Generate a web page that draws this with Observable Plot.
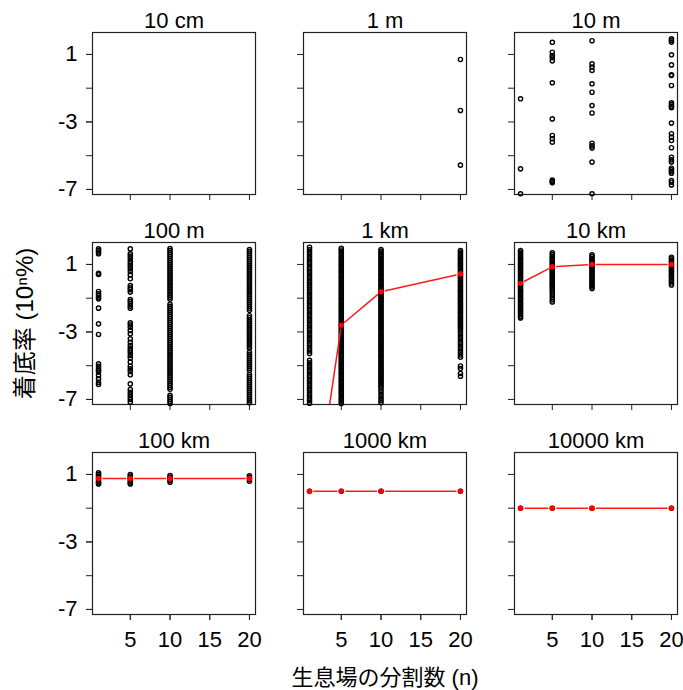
<!DOCTYPE html>
<html>
<head>
<meta charset="utf-8">
<script src="https://cdn.jsdelivr.net/npm/d3@7"></script>
<script src="https://cdn.jsdelivr.net/npm/@observablehq/plot@0.6"></script>
<style>
  html, body { margin: 0; padding: 0; background: white; }
</style>
</head>
<body>
<div id="chart"></div>
<script>
// ---- categories / labels ----
const panelNames = ["10 cm", "1 m", "10 m", "100 m", "1 km", "10 km", "100 km", "1000 km", "10000 km"];
const nValues = [1, 5, 10, 20];
const xTicks = [5, 10, 15, 20];
const yTicksAll = [1, -1, -3, -5, -7];
const yTickLabels = [1, -3, -7];
const yLabel = "着底率 (10ⁿ%)";
const xLabel = "生息場の分割数 (n)";

// ---- individual observations (log10 of settlement rate), by panel and n ----
const p1m_n20 = [0.70, -2.32, -5.56];

const p10m_n1 = [-1.63, -5.78, -7.26];
const p10m_n5 = [1.72, 1.13, 0.94, 0.80, 0.62, -0.68, -2.82, -3.80, -4.00, -4.20, -6.45, -6.53, -6.61];
const p10m_n10 = [1.81, 0.44, 0.25, 0.05, -0.74, -1.24, -2.03, -2.47, -4.26, -4.42, -4.55, -5.38, -7.26];
const p10m_n20 = [1.92, 1.83, 1.73, 0.98, 0.38, -0.21, -0.25, -0.84, -1.87, -1.97, -2.07, -2.16, -3.07, -3.70, -3.90, -4.10, -4.53, -5.09, -5.25, -5.38, -5.74, -5.84, -5.94, -6.04, -6.47, -6.57, -6.73];

const p100m_n1 = [1.92, 1.83, 1.73, 1.63, 0.48, 0.40, -0.60, -0.74, -0.84, -0.94, -1.04, -1.59, -2.52, -3.15, -4.89, -5.03, -5.19, -5.29, -5.38, -5.58, -5.78, -5.98, -6.11];
const p100m_n5 = [1.92, 1.63, 1.49, 1.33, 1.17, 1.04, 0.90, 0.74, 0.58, 0.38, 0.15, -0.25, -0.39, -0.50, -0.64, -1.08, -1.20, -1.33, -1.47, -1.59, -2.46, -2.58, -2.72, -2.91, -3.11, -3.41, -3.61, -3.80, -3.96, -4.10, -4.24, -4.40, -4.55, -4.79, -5.03, -5.19, -5.34, -5.54, -6.08, -6.41, -6.57, -6.73, -6.87, -7.00, -7.16];
const p100m_n10 = [1.94, 1.82, 1.70, 1.58, 1.46, 1.34, 1.22, 1.10, 0.98, 0.86, 0.74, 0.62, 0.50, 0.38, 0.26, 0.14, 0.02, -0.10, -0.22, -0.34, -0.46, -0.58, -0.70, -0.82, -0.94, -1.06, -1.36, -1.48, -1.60, -1.72, -1.84, -1.96, -2.08, -2.20, -2.32, -2.44, -2.56, -2.68, -2.80, -2.92, -3.04, -3.16, -3.28, -3.40, -3.52, -3.64, -3.76, -3.88, -4.00, -4.12, -4.24, -4.36, -4.48, -4.60, -4.72, -4.84, -4.96, -5.08, -5.20, -5.32, -5.44, -5.56, -5.68, -5.80, -5.92, -6.04, -6.16, -6.28, -6.40, -6.76, -6.88, -7.00, -7.12, -7.24];
const p100m_n20 = [1.88, 1.76, 1.64, 1.52, 1.40, 1.28, 1.16, 1.04, 0.92, 0.80, 0.68, 0.56, 0.44, 0.32, 0.20, 0.08, -0.04, -0.16, -0.28, -0.40, -0.52, -0.64, -0.76, -0.88, -1.00, -1.12, -1.24, -1.36, -1.48, -1.60, -1.72, -2.04, -2.16, -2.28, -2.40, -2.52, -2.64, -2.76, -2.88, -3.00, -3.12, -3.24, -3.36, -3.48, -3.60, -3.72, -3.84, -3.96, -4.20, -4.32, -4.44, -4.56, -4.68, -4.80, -4.92, -5.04, -5.16, -5.28, -5.52, -5.64, -5.76, -5.88, -6.00, -6.12, -6.24, -6.36, -6.48, -6.60, -6.72, -6.84, -6.96, -7.08, -7.20];

const p1km_n1 = [2.02, 1.87, 1.72, 1.57, 1.42, 1.27, 1.12, 0.97, 0.82, 0.67, 0.52, 0.37, 0.22, 0.07, -0.08, -0.23, -0.38, -0.53, -0.68, -0.83, -0.98, -1.13, -1.28, -1.43, -1.58, -1.73, -1.88, -2.03, -2.18, -2.33, -2.48, -2.63, -2.78, -2.93, -3.08, -3.23, -3.38, -3.53, -3.68, -3.83, -3.98, -4.13, -4.28, -4.68, -4.83, -4.98, -5.13, -5.28, -5.43, -5.58, -5.73, -5.88, -6.03, -6.18, -6.33, -6.48, -6.63, -6.78, -6.93, -7.08, -7.23];
const p1km_n5 = [1.96, 1.86, 1.76, 1.66, 1.56, 1.46, 1.36, 1.26, 1.16, 1.06, 0.96, 0.86, 0.76, 0.66, 0.56, 0.46, 0.36, 0.26, 0.16, 0.06, -0.04, -0.14, -0.24, -0.34, -0.44, -0.54, -0.64, -0.74, -0.84, -0.94, -1.04, -1.14, -1.24, -1.34, -1.44, -1.54, -1.64, -1.74, -1.84, -1.94, -2.04, -2.14, -2.24, -2.34, -2.44, -2.54, -2.64, -2.74, -2.84, -2.94, -3.04, -3.14, -3.24, -3.34, -3.44, -3.54, -3.64, -3.74, -3.84, -3.94, -4.04, -4.14, -4.24, -4.34, -4.44, -4.54, -4.64, -4.74, -4.84, -4.94, -5.04, -5.14, -5.24, -5.34, -5.44, -5.54, -5.64, -5.74, -5.84, -5.94, -6.04, -6.14, -6.24, -6.34, -6.44, -6.54, -6.64, -6.74, -6.84, -6.94, -7.04, -7.14, -7.24];
const p1km_n10 = [1.88, 1.78, 1.68, 1.58, 1.48, 1.38, 1.28, 1.18, 1.08, 0.98, 0.88, 0.78, 0.68, 0.58, 0.48, 0.38, 0.28, 0.18, 0.08, -0.02, -0.12, -0.22, -0.32, -0.42, -0.52, -0.62, -0.72, -0.82, -0.92, -1.02, -1.12, -1.22, -1.32, -1.42, -1.52, -1.62, -1.72, -1.82, -1.92, -2.02, -2.12, -2.22, -2.32, -2.42, -2.52, -2.62, -2.72, -2.82, -2.92, -3.02, -3.12, -3.22, -3.32, -3.42, -3.52, -3.62, -3.72, -3.82, -3.92, -4.02, -4.12, -4.22, -4.32, -4.42, -4.52, -4.62, -4.72, -4.82, -4.92, -5.02, -5.12, -5.22, -5.32, -5.42, -5.52, -5.62, -5.72, -5.82, -5.92, -6.02, -6.12, -6.22, -6.32, -6.47, -6.62, -6.77, -6.92, -7.07, -7.20];
const p1km_n20 = [1.83, 1.73, 1.63, 1.53, 1.43, 1.33, 1.23, 1.13, 1.03, 0.93, 0.83, 0.73, 0.63, 0.53, 0.43, 0.33, 0.23, 0.13, 0.03, -0.07, -0.17, -0.27, -0.37, -0.47, -0.57, -0.67, -0.77, -0.87, -0.97, -1.07, -1.17, -1.27, -1.37, -1.47, -1.57, -1.67, -1.77, -1.87, -1.97, -2.07, -2.17, -2.27, -2.37, -2.47, -2.57, -2.67, -2.77, -2.87, -3.02, -3.17, -3.32, -3.47, -3.62, -3.77, -3.92, -4.07, -4.22, -4.37, -4.50, -5.02, -5.17, -5.46, -5.63];

const p10km_n1 = [1.83, 1.73, 1.63, 1.53, 1.43, 1.33, 1.23, 1.13, 1.03, 0.93, 0.83, 0.73, 0.63, 0.53, 0.43, 0.33, 0.23, 0.13, 0.03, -0.07, -0.17, -0.27, -0.37, -0.47, -0.57, -0.67, -0.77, -0.87, -0.97, -1.07, -1.17, -1.27, -1.37, -1.47, -1.57, -1.67, -1.77, -1.87, -1.97, -2.07, -2.17];
const p10km_n5 = [1.69, 1.59, 1.49, 1.39, 1.29, 1.19, 1.09, 0.99, 0.89, 0.79, 0.69, 0.59, 0.49, 0.39, 0.29, 0.19, 0.09, -0.01, -0.11, -0.21, -0.31, -0.41, -0.51, -0.64, -0.79, -0.94, -1.09, -1.22];
const p10km_n10 = [1.57, 1.47, 1.37, 1.27, 1.17, 1.07, 0.97, 0.87, 0.77, 0.67, 0.57, 0.47, 0.37, 0.27, 0.17, 0.07, -0.03, -0.13, -0.23, -0.33, -0.43];
const p10km_n20 = [1.43, 1.33, 1.23, 1.13, 1.03, 0.93, 0.83, 0.73, 0.63, 0.53, 0.43, 0.33, 0.25, 0.12, 0.02, -0.10, -0.22];

const p100km_n1 = [1.09, 1.00, 0.90, 0.80, 0.70, 0.60, 0.50, 0.44];
const p100km_n5 = [1.00, 0.90, 0.80, 0.70, 0.60, 0.50, 0.44];
const p100km_n10 = [0.94, 0.84, 0.74, 0.64, 0.54];
const p100km_n20 = [0.92, 0.82, 0.72, 0.60];

const p1000km_all = [0, 0, 0, 0];
const p10000km_all = [-1, -1, -1, -1];

// ---- means (red line), one value per n ----
const mean1km = [-15.4, -2.60, -0.62, 0.43];
const mean10km = [-0.12, 0.86, 1.00, 1.00];
const mean100km = [0.76, 0.76, 0.76, 0.76];
const mean1000km = [0, 0, 0, 0];
const mean10000km = [-1, -1, -1, -1];

// ---- build tables ----
const obsGroups = [
  ["1 m", 20, p1m_n20],
  ["10 m", 1, p10m_n1], ["10 m", 5, p10m_n5], ["10 m", 10, p10m_n10], ["10 m", 20, p10m_n20],
  ["100 m", 1, p100m_n1], ["100 m", 5, p100m_n5], ["100 m", 10, p100m_n10], ["100 m", 20, p100m_n20],
  ["1 km", 1, p1km_n1], ["1 km", 5, p1km_n5], ["1 km", 10, p1km_n10], ["1 km", 20, p1km_n20],
  ["10 km", 1, p10km_n1], ["10 km", 5, p10km_n5], ["10 km", 10, p10km_n10], ["10 km", 20, p10km_n20],
  ["100 km", 1, p100km_n1], ["100 km", 5, p100km_n5], ["100 km", 10, p100km_n10], ["100 km", 20, p100km_n20]
];
const panelPos = name => {
  const i = panelNames.indexOf(name);
  return {col: i % 3, row: Math.floor(i / 3)};
};
const obs = [];
for (const [name, n, vals] of obsGroups) {
  const {col, row} = panelPos(name);
  for (const v of vals) obs.push({col, row, n, v});
}
for (const [name, vals] of [["1000 km", p1000km_all], ["10000 km", p10000km_all]]) {
  const {col, row} = panelPos(name);
  vals.forEach((v, i) => obs.push({col, row, n: nValues[i], v}));
}

const meanGroups = [["1 km", mean1km], ["10 km", mean10km], ["100 km", mean100km], ["1000 km", mean1000km], ["10000 km", mean10000km]];
const meanPts = [];
const meanSegs = [];
for (const [name, vals] of meanGroups) {
  const {col, row} = panelPos(name);
  vals.forEach((v, i) => {
    meanPts.push({col, row, n: nValues[i], v});
    if (i < vals.length - 1) meanSegs.push({col, row, n1: nValues[i], v1: v, n2: nValues[i + 1], v2: vals[i + 1]});
  });
}

const panels = panelNames.map((name, i) => ({name, col: i % 3, row: Math.floor(i / 3)}));

const ink = "#222";
const chart = Plot.plot({
  width: 683,
  height: 690,
  marginTop: 32,
  marginBottom: 76,
  marginLeft: 92,
  marginRight: 6,
  style: "font-family: 'Liberation Sans', Arial, 'Noto Sans CJK JP', sans-serif; font-size: 22px; background: white; color: black;",
  fx: {domain: [0, 1, 2], paddingInner: 48 / 211, paddingOuter: 0, axis: null},
  fy: {domain: [0, 1, 2], paddingInner: 48 / 210, paddingOuter: 0, axis: null},
  x: {domain: [0.24, 20.76]},
  y: {domain: [-7.3, 2.3]},
  marks: [
    Plot.frame({stroke: ink, strokeWidth: 1.2}),
    Plot.axisX({ticks: xTicks, tickSize: 6, stroke: ink, fill: "none", label: null, facetAnchor: null}),
    Plot.axisX({ticks: xTicks, tickSize: 6, tickPadding: 11, stroke: ink, fill: "black", label: null, facetAnchor: "bottom", tickFormat: d => String(d)}),
    Plot.axisY({ticks: yTicksAll, tickSize: 6, stroke: ink, fill: "none", label: null, facetAnchor: null}),
    Plot.axisY({ticks: yTickLabels, tickSize: 6, tickPadding: 9, stroke: ink, fill: "black", label: null, facetAnchor: "left", tickFormat: d => String(d)}),
    Plot.text(panels, {fx: "col", fy: "row", text: "name", frameAnchor: "top", lineAnchor: "bottom", dy: -5, fontSize: 22, fill: "black"}),
    Plot.dot(obs, {fx: "col", fy: "row", x: "n", y: "v", r: 2.1, stroke: "black", strokeWidth: 1.4, fill: "none"}),
    Plot.arrow(meanSegs, {fx: "col", fy: "row", x1: "n1", y1: "v1", x2: "n2", y2: "v2", stroke: "#ff1a1a", strokeWidth: 1.5, headLength: 0, insetStart: 4.5, insetEnd: 4.5, clip: true}),
    Plot.dot(meanPts, {fx: "col", fy: "row", x: "n", y: "v", r: 2.7, fill: "#ff0000", stroke: "none", clip: true}),
    Plot.text([{col: 0, row: 1, label: yLabel}], {fx: "col", fy: "row", text: "label", frameAnchor: "left", textAnchor: "middle", lineAnchor: "middle", dx: -67, rotate: -90, fontSize: 24, fill: "black"}),
    Plot.text([{col: 1, row: 2, label: xLabel}], {fx: "col", fy: "row", text: "label", frameAnchor: "bottom", textAnchor: "middle", lineAnchor: "middle", dy: 63, fontSize: 22, fill: "black"})
  ]
});
document.getElementById("chart").appendChild(chart);
</script>
</body>
</html>
